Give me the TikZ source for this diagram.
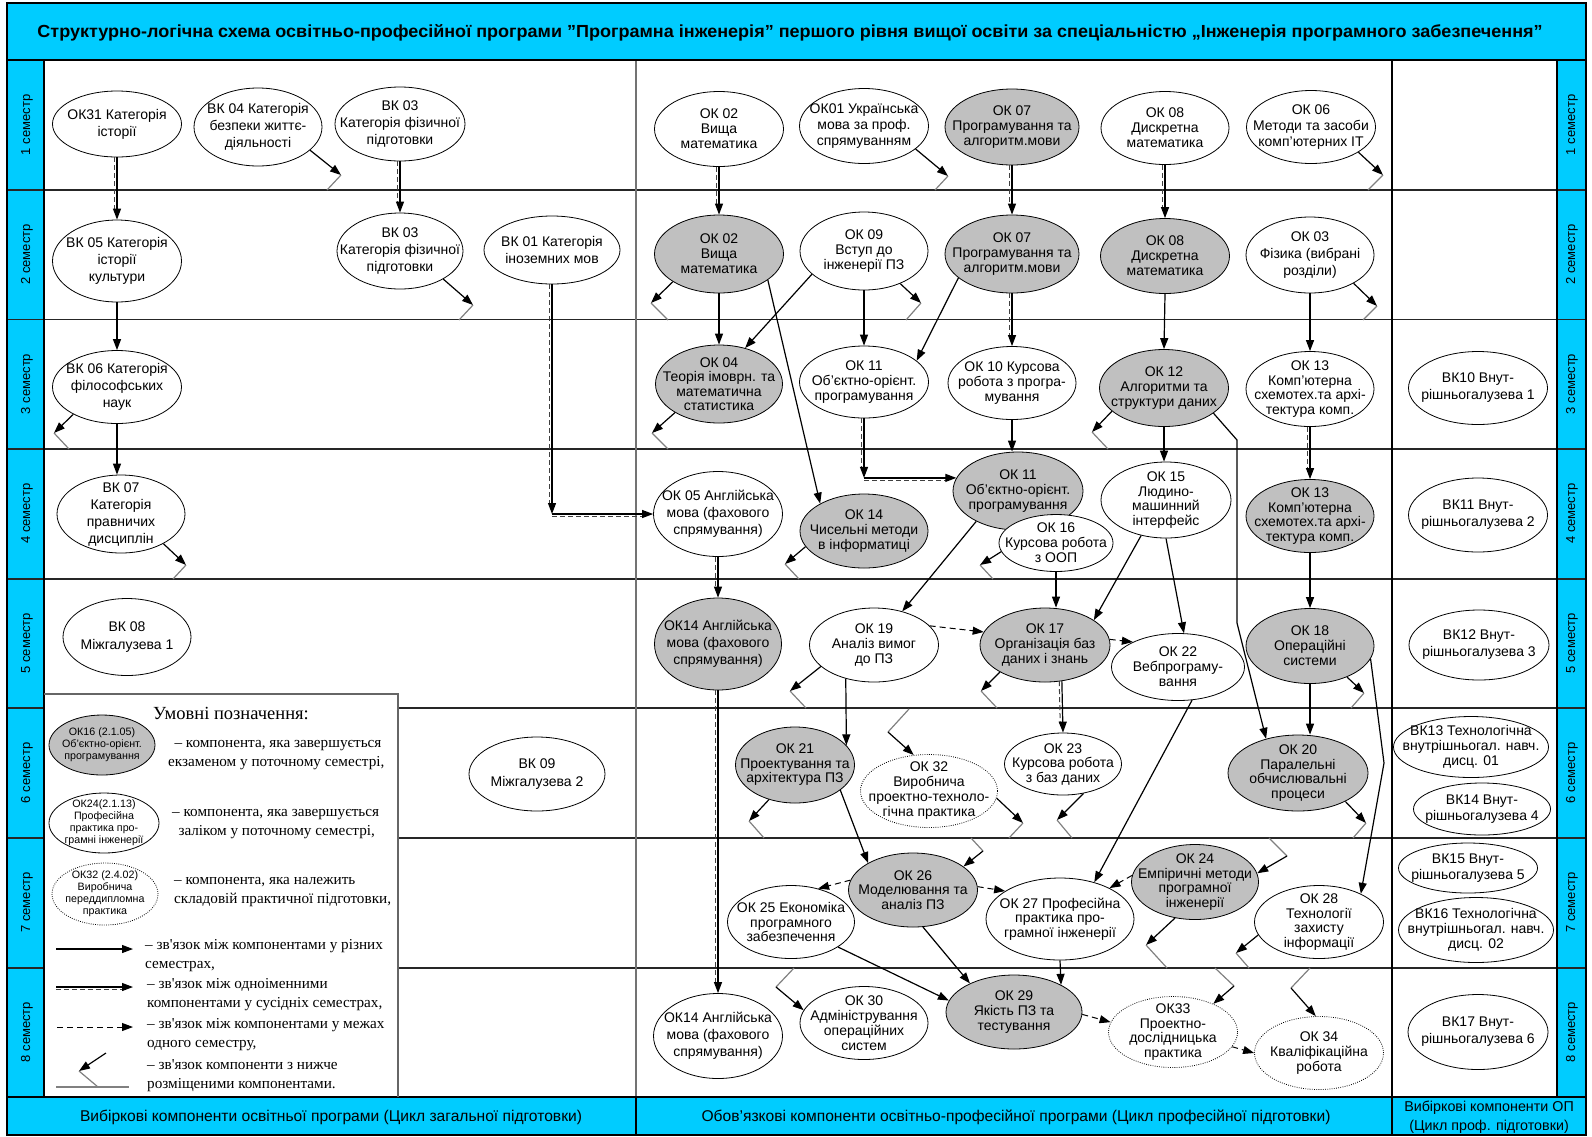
\documentclass[tikz,border=0pt]{standalone}
\usepackage{fontspec}
\usepackage{graphicx}
\setmainfont{Liberation Sans}
\newfontfamily\lgserif{Liberation Serif}
\usetikzlibrary{arrows.meta,shapes.geometric}
\definecolor{cyanbg}{HTML}{00CCFF}
\definecolor{ellgray}{HTML}{C0C0C0}
\newcommand\nd[7]{\node[#1,minimum width=#4pt,minimum height=#5pt] (#2) at (#3) {};
  \node[txt,font=\fontsize{14}{#6}\selectfont] (#2t) at (#2.center) {#7};}
\newcommand\dbl[2]{\draw[dd,shorten >=9pt] ([xshift=-2.6pt]#1) -- ([xshift=-2.6pt]#2);\draw[arr] (#1) -- (#2);}
\newcommand\dblh[2]{\draw[dd,shorten >=9pt] ([yshift=-2.7pt]#1) -- ([yshift=-2.7pt]#2);\draw[arr] (#1) -- (#2);}
\newcommand\chout[4]{\coordinate (#2) at (#3);\draw[arr] (#1) -- (#2);\draw[gl] (#2) -- ++(#4);}
\newcommand\chin[4]{\coordinate (#2) at (#3);\draw[gl] (#1) -- (#2);\draw[arr] (#2) -- (#4);}
\begin{document}
\begin{tikzpicture}[x=1pt,y=-1pt,
  ell/.style={ellipse,draw=black,line width=0.8pt,fill=white,inner sep=0pt},
  ellg/.style={ell,fill=ellgray},
  elld/.style={ell,dash pattern=on 0.8pt off 1.4pt},
  txt/.style={align=center,inner sep=0pt},
  arr/.style={line width=1.2pt,-{Triangle[length=11pt,width=8pt]}},
  dsh/.style={line width=1pt,dash pattern=on 6pt off 4pt,-{Triangle[length=11pt,width=8pt]}},
  dd/.style={line width=1pt,black!75,dash pattern=on 5pt off 3pt},
  gl/.style={line width=1.2pt,black!50},
  rowl/.style={line width=1.5pt,black!85},
  sem/.style={rotate=90,font=\fontsize{13}{15}\selectfont},
  lgt/.style={anchor=west,align=left,inner sep=0pt,font=\lgserif\fontsize{15.2}{19}\selectfont},
  ft/.style={font=\fontsize{15.6}{19}\selectfont,align=center}
  ]
\useasboundingbox (0,0) rectangle (1592,1136);
% backgrounds
\fill[cyanbg] (7,3) rectangle (1586,60);
\fill[cyanbg] (7,60) rectangle (44,1097);
\fill[cyanbg] (1557,60) rectangle (1586,1097);
\fill[cyanbg] (7,1097) rectangle (1586,1135);
% grid lines
\foreach \y in {190,319.5,449,579} \draw[rowl] (7,\y) -- (1586,\y);
\foreach \y in {708,838,968} {\draw[rowl] (7,\y) -- (44,\y); \draw[rowl] (398,\y) -- (1586,\y);}
\draw[line width=1.5pt,black!55] (636,60) -- (636,1097);
\draw[line width=1.5pt] (636,1097) -- (636,1135);
\draw[line width=1.2pt] (1392,60) -- (1392,1135);
\draw[line width=1.5pt] (44,60) -- (44,1097);
\draw[line width=1.5pt] (1557,60) -- (1557,1097);
\draw[line width=2pt] (7,60) -- (1586,60);
\draw[line width=2pt] (7,1097) -- (1586,1097);
\draw[line width=1.5pt] (7,3) rectangle (1586,1135);
% legend box
\fill[white] (45,694) rectangle (398,1096);
\draw[line width=1.2pt,black!60] (44,694) -- (398,694) -- (398,1097);
% title and footer
\node (title) at (790,33) {\resizebox{1505pt}{\height}{\fontsize{17.5}{20}\selectfont\bfseries Структурно-логічна схема освітньо-професійної програми ”Програмна інженерія” першого рівня вищої освіти за спеціальністю „Інженерія програмного забезпечення”}};
\node[ft] (f1) at (331,1117) {Вибіркові компоненти освітньої програми (Цикл загальної підготовки)};
\node[ft] (f2) at (1016,1117) {Обов’язкові компоненти освітньо-професійної програми (Цикл професійної підготовки)};
\node[ft,font=\fontsize{14.3}{18.5}\selectfont] (f3) at (1489,1117) {Вибіркові компоненти ОП\\(Цикл проф. підготовки)};
% semester labels
\foreach \i in {1,...,8} {
  \pgfmathsetmacro\yc{60+(\i-0.5)*129.6}
  \node[sem] (sl\i) at (27,\yc) {\i{} семестр};
  \node[sem] (sr\i) at (1572,\yc) {\i{} семестр};
}
% ---------- nodes ----------
% row 1
\nd{ell}{ok31}{117,124}{129}{66}{17}{ОК31 Категорія\\історії}
\nd{ell}{vk04}{258,127}{128}{78}{17}{ВК 04 Категорія\\безпеки життє-\\діяльності}
\nd{ell}{vk03a}{400,124}{130}{74}{17}{ВК 03\\Категорія фізичної\\підготовки}
\nd{ell}{ok02a}{719,129}{129}{75}{15}{ОК 02\\Вища\\математика}
\nd{ell}{ok01}{864,126}{129}{75}{16}{ОК01 Українська\\мова за проф.\\спрямуванням}
\nd{ellg}{ok07a}{1012,127}{134}{76}{15}{ОК 07\\Програмування та\\алгоритм.мови}
\nd{ell}{ok08a}{1165,128}{128}{73}{15}{ОК 08\\Дискретна\\математика}
\nd{ell}{ok06}{1311,127}{129}{73}{16}{ОК 06\\Методи та засоби\\комп’ютерних IT}
% row 2
\nd{ell}{vk05}{117,261}{129}{82}{17}{ВК 05 Категорія\\історії\\культури}
\nd{ell}{vk03b}{400,251}{126}{76}{17}{ВК 03\\Категорія фізичної\\підготовки}
\nd{ell}{vk01}{552,250}{136}{68}{17}{ВК 01 Категорія\\іноземних мов}
\nd{ellg}{ok02b}{719,254}{129}{78}{15}{ОК 02\\Вища\\математика}
\nd{ell}{ok09}{864,251}{128}{78}{15}{ОК 09\\Вступ до\\інженерії ПЗ}
\nd{ellg}{ok07b}{1012,254}{134}{78}{15}{ОК 07\\Програмування та\\алгоритм.мови}
\nd{ellg}{ok08b}{1165,256}{129}{75}{15}{ОК 08\\Дискретна\\математика}
\nd{ell}{ok03}{1310,255}{128}{76}{17}{ОК 03\\Фізика (вибрані\\розділи)}
% row 3
\nd{ell}{vk06}{117,387}{129}{73}{17}{ВК 06 Категорія\\філософських\\наук}
\nd{ellg}{ok04}{719,384}{127}{78}{14.5}{ОК 04\\Теорія імоврн. та\\математична\\статистика}
\nd{ell}{ok11a}{864,382}{129}{72}{15}{ОК 11\\Об’єктно-орієнт.\\програмування}
\nd{ell}{ok10}{1012,383}{128}{73}{15}{ОК 10 Курсова\\робота з програ-\\мування}
\nd{ellg}{ok12}{1164,388}{129}{77}{15}{ОК 12\\Алгоритми та\\структури даних}
\nd{ell}{ok13a}{1310,389}{128}{75}{14.5}{ОК 13\\Комп’ютерна\\схемотех.та архі-\\тектура комп.}
\nd{ell}{vk10}{1478,388}{139}{73}{17}{ВК10 Внут-\\рішньогалузева 1}
% row 4
\nd{ell}{vk07}{121,514}{128}{78}{17}{ВК 07\\Категорія\\правничих\\дисциплін}
\nd{ell}{ok05}{718,514}{129}{85}{17}{ОК 05 Англійська\\мова (фахового\\спрямування)}
\nd{ellg}{ok14n}{864,531}{128}{74}{15}{ОК 14\\Чисельні методи\\в інформатиці}
\nd{ellg}{ok11b}{1018,491}{130}{78}{15}{ОК 11\\Об’єктно-орієнт.\\програмування}
\nd{ell}{ok16}{1056,543}{114}{57}{15}{ОК 16\\Курсова робота\\з ООП}
\nd{ell}{ok15}{1166,500}{130}{76}{14.5}{ОК 15\\Людино-\\машинний\\інтерфейс}
\nd{ellg}{ok13b}{1310,516}{128}{73}{14.5}{ОК 13\\Комп’ютерна\\схемотех.та архі-\\тектура комп.}
\nd{ell}{vk11}{1478,515}{139}{74}{17}{ВК11 Внут-\\рішньогалузева 2}
% row 5
\nd{ell}{vk08}{127,637}{128}{77}{18}{ВК 08\\Міжгалузева 1}
\nd{ellg}{ok14a}{718,644}{127}{92}{17}{ОК14 Англійська\\мова (фахового\\спрямування)}
\nd{ell}{ok19}{874,645}{129}{74}{15}{ОК 19\\Аналіз вимог\\до ПЗ}
\nd{ellg}{ok17}{1045,645}{130}{74}{15}{ОК 17\\Організація баз\\даних і знань}
\nd{ell}{ok22}{1178,667}{133}{67}{15}{ОК 22\\Вебпрограму-\\вання}
\nd{ellg}{ok18}{1310,646}{128}{75}{15}{ОК 18\\Операційні\\системи}
\nd{ell}{vk12}{1479,645}{140}{70}{17}{ВК12 Внут-\\рішньогалузева 3}
% row 6
\nd{ell}{vk09}{537,774}{136}{74}{18}{ВК 09\\Міжгалузева 2}
\nd{ellg}{ok21}{795,765}{119}{76}{14.5}{ОК 21\\Проектування та\\архітектура ПЗ}
\nd{elld}{ok32}{929,791}{137}{73}{15}{ОК 32\\Виробнича\\проектно-техноло-\\гічна практика}
\nd{ell}{ok23}{1063,764}{117}{62}{14.5}{ОК 23\\Курсова робота\\з баз даних}
\nd{ellg}{ok20}{1298,773}{140}{76}{14.5}{ОК 20\\Паралельні\\обчислювальні\\процеси}
\nd{ell}{vk13}{1471,747}{155}{61}{15}{ВК13 Технологічна\\внутрішньогал. навч.\\дисц. 01}
\nd{ell}{vk14}{1482,809}{137}{52}{16}{ВК14 Внут-\\рішньогалузева 4}
% row 7
\nd{ell}{ok25}{791,922}{127}{73}{14.5}{ОК 25 Економіка\\програмного\\забезпечення}
\nd{ellg}{ok26}{913,890}{129}{74}{14.5}{ОК 26\\Моделювання та\\аналіз ПЗ}
\nd{ell}{ok27}{1060,919}{148}{82}{14.5}{ОК 27 Професійна\\практика про-\\грамної інженерії}
\nd{ellg}{ok24}{1195,882}{127}{75}{14.5}{ОК 24\\Емпіричні методи\\програмної\\інженерії}
\nd{ell}{ok28}{1319,922}{129}{73}{14.5}{ОК 28\\Технології\\захисту\\інформації}
\nd{ell}{vk15}{1468,868}{139}{50}{16.5}{ВК15 Внут-\\рішньогалузева 5}
\nd{ell}{vk16}{1476,930}{155}{65}{15}{ВК16 Технологічна\\внутрішньогал. навч.\\дисц. 02}
% row 8
\nd{ell}{ok14c}{718,1036}{129}{85}{17}{ОК14 Англійська\\мова (фахового\\спрямування)}
\nd{ell}{ok30}{864,1023}{128}{73}{15}{ОК 30\\Адміністрування\\операційних\\систем}
\nd{ellg}{ok29}{1014,1012}{136}{74}{15}{ОК 29\\Якість ПЗ та\\тестування}
\nd{elld}{ok33}{1173,1032}{129}{71}{14.5}{ОК33\\Проектно-\\дослідницька\\практика}
\nd{elld}{ok34}{1319,1053}{129}{73}{15}{ОК 34\\Кваліфікаційна\\робота}
\nd{ell}{vk17}{1478,1032}{140}{75}{17}{ВК17 Внут-\\рішньогалузева 6}
% ---------- double connectors ----------
\dbl{ok31.south}{vk05.north}
\dbl{vk03a.south}{vk03b.north}
\dbl{ok02a.south}{ok02b.north}
\dbl{ok07a.south}{ok07b.north}
\dbl{ok08a.south}{ok08b.north}
\dbl{ok07b.south}{ok10.north}
\dbl{ok13a.south}{ok13b.north}
\dbl{ok05.south}{ok14a.north}
\dbl{ok14a.south}{ok14c.north}
\dbl{ok17.295}{ok23.north}
\coordinate (k1) at (vk01.south |- ok05.west);
\dbl{vk01.south}{k1}
\dblh{k1}{ok05.west}
\coordinate (k2) at (ok11a.south |- ok11b.168);
\dbl{ok11a.south}{k2}
\dblh{k2}{ok11b.168}
% ---------- solid connectors ----------
\draw[arr] (ok02b.south) -- (ok04.north);
\draw[arr] (ok09.204) -- (ok04.54);
\draw[arr] (ok02b.332) -- (ok14n.148);
\draw[arr] (ok09.south) -- (ok11a.north);
\draw[arr] (ok07b.204) -- (ok11a.22);
\draw[arr] (ok08b.south) -- (ok12.north);
\draw[arr] (ok03.south) -- (ok13a.north);
\draw[arr] (vk05.south) -- (vk06.north);
\draw[arr] (vk06.south) -- (vk06.south |- vk07.north);
\draw[arr] (ok10.south) -- (ok10.south |- ok11b.north);
\draw[arr] (ok12.south) -- (ok12.south |- ok15.north);
\coordinate (w1) at (1237,440);
\coordinate (w2) at (1237,623);
\draw[arr] (ok12.333) -- (w1) -- (w2) -- (ok20.133);
\draw[arr] (ok11b.216) -- (ok19.50);
\draw[arr] (ok16.south) -- (ok16.south |- ok17.north);
\draw[arr] (ok15.235) -- (ok17.27);
\draw[arr] (ok15.south) -- (ok22.80);
\draw[arr] (ok13b.south) -- (ok18.north);
\draw[arr] (ok19.230) -- (ok21.21);
\draw[arr] (ok18.south) -- (ok18.south |- ok20.north);
\coordinate (w3) at (1384,763);
\draw[arr] (ok18.348) -- (w3) -- (ok28.34);
\draw[arr] (ok22.293) -- (ok27.47);
\draw[arr] (ok21.331) -- (ok26.149);
\draw[arr] (ok26.285) -- (ok29.147);
\draw[arr] (ok25.332) -- (ok29.170);
\draw[arr] (ok27.south) -- (ok29.30);
% ---------- dashed connectors ----------
\draw[dsh] (ok19.19) -- (ok17.168);
\draw[dsh] (ok17.5) -- (ok22.151);
\draw[dsh] (ok26.171) -- (ok25.51);
\draw[dsh] (ok26.3) -- (ok27.153);
\draw[dsh] (ok24.174) -- (ok27.32);
\draw[dsh] (ok29.358) -- (ok33.171);
\draw[dsh] (ok33.346) -- (ok34.180);
% ---------- links to lower components ----------
\chout{vk04.336}{c1}{341,175}{-14,15}
\chout{ok01.336}{c2}{948,176}{-13,14}
\chout{ok06.332}{c3}{1383,175}{-15,15}
\chout{vk03b.327}{c4}{473,305}{-14,15}
\chout{ok02b.211}{c5}{651,303}{17,17}
\chout{ok09.318}{c6}{921,303}{-15,17}
\chout{ok03.327}{c7}{1377,306}{-14,14}
\chout{vk06.212}{c8}{54,433}{15,16}
\chout{ok04.213}{c9}{652,433}{16,16}
\chout{ok12.204}{c10}{1092,432}{16,17}
\chout{vk07.325}{c11}{186,565}{-13,14}
\chout{ok14n.195}{c12}{785,564}{14,15}
\chout{ok16.189}{c13}{980,565}{13,14}
\chout{ok19.202}{c14}{790,691}{16,17}
\chout{ok17.211}{c15}{981,691}{16,17}
\chout{ok18.320}{c16}{1364,693}{-13,15}
\chout{ok21.233}{c17}{749,821}{15,17}
\chout{ok32.354}{c18}{1023,823}{-14,15}
\chout{ok23.305}{c19}{1057,820}{15,18}
\chout{ok20.329}{c20}{1366,823}{-13,15}
\chout{ok24.241}{c21}{1146,945}{21,23}
\chout{ok28.192}{c22}{1236,953}{13,15}
\chin{909,709}{i1}{888,732}{ok32.113}
\chin{971,838}{i2}{983,851}{ok26.25}
\chin{1269,838}{i3}{1287,856}{ok24.8}
\chin{794,968}{i4}{776,987}{ok30.168}
\chin{1215,968}{i5}{1234,986}{ok33.35}
\chin{1310,968}{i6}{1291,988}{ok34.95}
% ---------- legend ----------
\node[font=\lgserif\fontsize{18.5}{21}\selectfont] (lgtitle) at (231,713) {Умовні позначення:};
\node[ellg,minimum width=106pt,minimum height=60pt] (lg1) at (102,745) {};
\node[txt,font=\fontsize{10.7}{12}\selectfont] (lg1t) at (lg1.center) {ОК16 (2.1.05)\\Об’єктно-орієнт.\\програмування};
\node[lgt] (lg1d) at (168,755.5) {\ \,– компонента, яка завершується\\екзаменом у поточному семестрі,};
\node[ell,minimum width=110pt,minimum height=60pt] (lg2) at (104,823) {};
\node[txt,font=\fontsize{10.7}{12}\selectfont] (lg2t) at (lg2.center) {ОК24(2.1.13)\\Професійна\\практика про-\\грамні інженерії};
\node[lgt] (lg2d) at (172,824) {– компонента, яка завершується\\\ \,заліком у поточному семестрі,};
\node[elld,minimum width=106pt,minimum height=62pt] (lg3) at (105,894) {};
\node[txt,font=\fontsize{10.7}{12}\selectfont] (lg3t) at (lg3.center) {ОК32 (2.4.02)\\Виробнича\\переддипломна\\практика};
\node[lgt] (lg3d) at (174,892.5) {– компонента, яка належить\\складовій практичної підготовки,};
\coordinate (la1) at (56,949); \coordinate (la2) at (133,949);
\draw[arr] (la1) -- (la2);
\node[lgt] (lg4d) at (145,955.5) {– зв'язок між компонентами у різних\\семестрах,};
\coordinate (lb1) at (56,987); \coordinate (lb2) at (133,987);
\draw[dd] (56,989.7) -- (124,989.7);
\draw[arr] (lb1) -- (lb2);
\node[lgt] (lg5d) at (147,994.5) {– зв'язок між одноіменними\\компонентами у сусідніх семестрах,};
\coordinate (lc1) at (57,1027); \coordinate (lc2) at (133,1027);
\draw[dsh] (lc1) -- (lc2);
\node[lgt] (lg6d) at (147,1035) {– зв'язок між компонентами у межах\\одного семестру,};
\coordinate (ld0) at (106,1053);
\coordinate (ld1) at (79,1071);
\draw[arr] (ld0) -- (ld1);
\draw[gl] (ld1) -- (98,1087);
\draw[gl] (56,1087) -- (129,1087);
\node[lgt] (lg7d) at (147,1075.5) {– зв'язок компоненти з нижче\\розміщеними компонентами.};
\end{tikzpicture}
\end{document}
